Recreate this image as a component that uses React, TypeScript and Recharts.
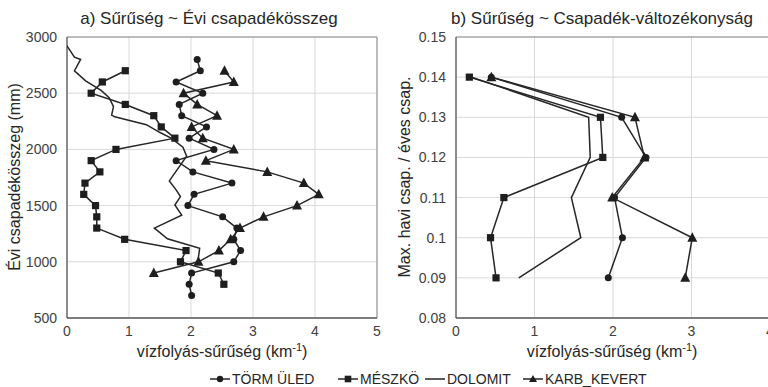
import {
  CartesianGrid,
  ReferenceLine,
  Scatter,
  ScatterChart,
  XAxis,
  YAxis,
} from "recharts";

// a) density vs annual precipitation (mm)
const tormPrecip = [2800, 2700, 2600, 2500, 2400, 2300, 2200, 2100, 2000, 1900, 1800, 1700, 1600, 1500, 1400, 1300, 1200, 1100, 1000, 900, 800, 700];
const tormDensity = [2.10, 2.15, 1.76, 2.19, 1.81, 1.85, 2.25, 1.97, 2.37, 1.76, 2.03, 2.66, 2.05, 1.95, 2.51, 2.74, 2.69, 2.80, 2.69, 2.01, 1.97, 2.01];

const meszPrecip = [2700, 2600, 2500, 2400, 2300, 2200, 2100, 2000, 1900, 1800, 1700, 1600, 1500, 1400, 1300, 1200, 1100, 1000, 900, 800];
const meszDensity = [0.94, 0.57, 0.39, 0.94, 1.40, 1.52, 1.74, 0.79, 0.39, 0.53, 0.29, 0.27, 0.46, 0.48, 0.48, 0.93, 1.92, 1.83, 2.44, 2.53];

const dolomitPrecip = [2920, 2820, 2800, 2700, 2610, 2525, 2460, 2380, 2305, 2290, 2220, 2150, 2100, 2020, 1940, 1720, 1640, 1580, 1505, 1415, 1300, 1205, 1120, 1000];
const dolomitDensity = [0.00, 0.12, 0.22, 0.12, 0.30, 0.55, 0.68, 0.75, 0.72, 0.77, 1.28, 1.50, 1.68, 1.87, 1.93, 1.65, 1.76, 1.83, 1.74, 1.85, 1.41, 1.62, 2.14, 2.11];

const karbPrecip = [2700, 2600, 2500, 2400, 2300, 2200, 2100, 2000, 1900, 1800, 1700, 1600, 1500, 1400, 1300, 1200, 1100, 1000, 900];
const karbDensity = [2.54, 2.69, 1.88, 2.10, 2.42, 2.01, 2.19, 2.69, 2.24, 3.23, 3.82, 4.06, 3.71, 3.17, 2.79, 2.64, 2.45, 2.12, 1.40];

// b) density vs max monthly / annual precipitation
const variability = [0.14, 0.13, 0.12, 0.11, 0.1, 0.09];
const tormDensityB = [0.45, 2.11, 2.42, 2.02, 2.12, 1.94];
const meszDensityB = [0.17, 1.84, 1.87, 0.61, 0.44, 0.51];
const dolomitDensityB = [0.2, 1.69, 1.71, 1.47, 1.59, 0.8];
const karbDensityB = [0.45, 2.28, 2.4, 1.99, 3.01, 2.92];

const xTicksA = [0, 1, 2, 3, 4, 5];
const yTicksA = [500, 1000, 1500, 2000, 2500, 3000];
const xTicksB = [0, 1, 2, 3, 4];
const yTicksB = [0.08, 0.09, 0.1, 0.11, 0.12, 0.13, 0.14, 0.15];

const seriesNames = ["TÖRM ÜLED", "MÉSZKÖ", "DOLOMIT", "KARB_KEVERT"];

const pairs = (xs: number[], ys: number[]) => xs.map((x, i) => ({ x, y: ys[i] }));

const FONT = "'Liberation Sans Narrow', 'Liberation Sans', Arial, sans-serif";
const INK = "#1e1e1e";
const lineStyle = { stroke: "#262626", strokeWidth: 1.5 };
const tickStyle = { fill: "#404040", fontSize: 14, fontFamily: FONT };

const Dot = (p: any) => <circle cx={p.cx} cy={p.cy} r={3.5} fill={INK} />;
const Square = (p: any) => <rect x={p.cx - 3.6} y={p.cy - 3.6} width={7.2} height={7.2} fill={INK} />;
const Tri = (p: any) => (
  <path d={`M${p.cx},${p.cy - 5.5}L${p.cx + 5},${p.cy + 4}L${p.cx - 5},${p.cy + 4}Z`} fill={INK} />
);
const NoMark = () => <g />;

function Panel(props: {
  left: number;
  width: number;
  marginRight: number;
  yWidth: number;
  xDomain: [number, number];
  xTicks: number[];
  yDomain: [number, number];
  yTicks: number[];
  data: { x: number; y: number }[][];
  borderRight?: boolean;
}) {
  const { data } = props;
  return (
    <div style={{ position: "absolute", left: props.left, top: 0 }}>
      <ScatterChart
        width={props.width}
        height={387}
        margin={{ top: 37, right: props.marginRight, bottom: 39, left: 0 }}
      >
        <CartesianGrid stroke="#d9d9d9" />
        <XAxis
          type="number"
          dataKey="x"
          domain={props.xDomain}
          ticks={props.xTicks}
          height={30}
          tickLine={false}
          axisLine={{ stroke: "#595959", strokeWidth: 1.3 }}
          tick={tickStyle}
          tickMargin={2}
          allowDataOverflow
        />
        <YAxis
          type="number"
          dataKey="y"
          domain={props.yDomain}
          ticks={props.yTicks}
          width={props.yWidth}
          tickLine={false}
          axisLine={{ stroke: "#595959", strokeWidth: 1.3 }}
          tick={tickStyle}
          tickMargin={4}
          allowDataOverflow
        />
        <ReferenceLine y={props.yDomain[1]} stroke="#8c8c8c" />
        {props.borderRight && <ReferenceLine x={props.xDomain[1]} stroke="#8c8c8c" />}
        <Scatter data={data[0]} shape={Dot} line={lineStyle} lineType="joint" isAnimationActive={false} />
        <Scatter data={data[1]} shape={Square} line={lineStyle} lineType="joint" isAnimationActive={false} />
        <Scatter data={data[2]} shape={NoMark} line={lineStyle} lineType="joint" isAnimationActive={false} />
        <Scatter data={data[3]} shape={Tri} line={lineStyle} lineType="joint" isAnimationActive={false} />
      </ScatterChart>
    </div>
  );
}

function XTitle({ x }: { x: number }) {
  return (
    <text x={x} y={357} textAnchor="middle" fontSize={16} fill="#262626" fontFamily={FONT}>
      vízfolyás-sűrűség (km
      <tspan dy={-6} fontSize={11}>-1</tspan>
      <tspan dy={6}>)</tspan>
    </text>
  );
}

function Legend() {
  const items = [
    { name: seriesNames[0], x: 210, mark: (cx: number, cy: number) => <circle cx={cx} cy={cy} r={3.2} fill={INK} /> },
    { name: seriesNames[1], x: 338, mark: (cx: number, cy: number) => <rect x={cx - 3.3} y={cy - 3.3} width={6.6} height={6.6} fill={INK} /> },
    { name: seriesNames[2], x: 425, mark: () => null },
    { name: seriesNames[3], x: 523, mark: (cx: number, cy: number) => <path d={`M${cx},${cy - 4}L${cx + 4},${cy + 3}L${cx - 4},${cy + 3}Z`} fill={INK} /> },
  ];
  const cy = 379;
  return (
    <g>
      {items.map((it) => (
        <g key={it.name}>
          <line x1={it.x} y1={cy} x2={it.x + 20} y2={cy} stroke="#262626" strokeWidth={1.5} />
          {it.mark(it.x + 10, cy)}
          <text x={it.x + 22} y={cy + 5} fontSize={14} fill="#262626" fontFamily={FONT}>
            {it.name}
          </text>
        </g>
      ))}
    </g>
  );
}

export default function App() {
  const dataA = [
    pairs(tormDensity, tormPrecip),
    pairs(meszDensity, meszPrecip),
    pairs(dolomitDensity, dolomitPrecip),
    pairs(karbDensity, karbPrecip),
  ];
  const dataB = [
    pairs(tormDensityB, variability),
    pairs(meszDensityB, variability),
    pairs(dolomitDensityB, variability),
    pairs(karbDensityB, variability),
  ];
  return (
    <div
      style={{
        position: "absolute",
        left: 0,
        top: 0,
        width: 768,
        height: 387,
        overflow: "hidden",
        background: "#fff",
        fontFamily: FONT,
      }}
    >
      <Panel
        left={0}
        width={390}
        marginRight={13}
        yWidth={67}
        xDomain={[0, 5]}
        xTicks={xTicksA}
        yDomain={[500, 3000]}
        yTicks={yTicksA}
        data={dataA}
        borderRight
      />
      <Panel
        left={390}
        width={390}
        marginRight={10}
        yWidth={66}
        xDomain={[0, 4]}
        xTicks={xTicksB}
        yDomain={[0.08, 0.15]}
        yTicks={yTicksB}
        data={dataB}
      />
      <svg
        width={768}
        height={387}
        style={{ position: "absolute", left: 0, top: 0, pointerEvents: "none" }}
      >
        <text x={209} y={24} textAnchor="middle" fontSize={17} fill="#262626" fontFamily={FONT}>
          a) Sűrűség ~ Évi csapadékösszeg
        </text>
        <text x={602} y={24} textAnchor="middle" fontSize={17} fill="#262626" fontFamily={FONT}>
          b) Sűrűség ~ Csapadék-változékonyság
        </text>
        <text
          transform="translate(20,177) rotate(-90)"
          textAnchor="middle"
          fontSize={16}
          fill="#262626"
          fontFamily={FONT}
        >
          Évi csapadékösszeg (mm)
        </text>
        <text
          transform="translate(410,177) rotate(-90)"
          textAnchor="middle"
          fontSize={16}
          fill="#262626"
          fontFamily={FONT}
        >
          Max. havi csap. / éves csap.
        </text>
        <XTitle x={222} />
        <XTitle x={612} />
        <Legend />
      </svg>
    </div>
  );
}
